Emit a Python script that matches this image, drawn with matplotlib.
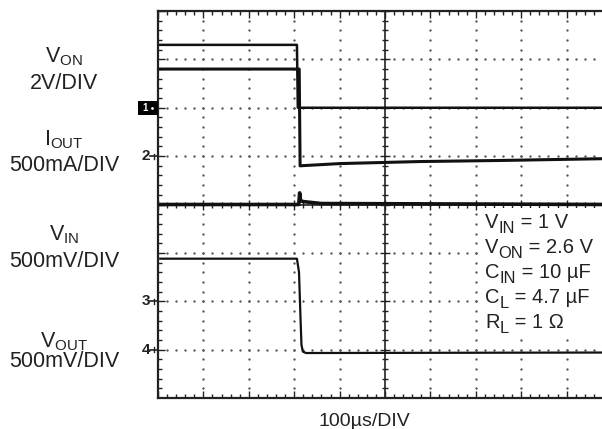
import matplotlib
matplotlib.use("Agg")
import matplotlib.pyplot as plt
from matplotlib.patches import Rectangle
import numpy as np

plt.rcParams["font.family"] = ["Liberation Sans", "DejaVu Sans"]
plt.rcParams["mathtext.fontset"] = "custom"
plt.rcParams["mathtext.rm"] = "Liberation Sans"
plt.rcParams["mathtext.default"] = "regular"

# ---------------------------------------------------------------------------
# Scope channels: reference level (div from screen centre) and units/div
# ---------------------------------------------------------------------------
ch_names = ["V$_{ON}$", "I$_{OUT}$", "V$_{IN}$", "V$_{OUT}$"]
ch_scales = ["2V/DIV", "500mA/DIV", "500mV/DIV", "500mV/DIV"]
ch_pos = [2.0, 1.0, -2.0, -3.0]
ch_per_div = [2.0, 0.5, 0.5, 0.5]

# captured waveforms, time in us
von_t = [5, 306, 308, 1000]
von_v = [2.6, 2.6, 0.0, 0.0]

iout_t = [5, 311, 313, 401, 577, 753, 1000]
iout_a = [0.90, 0.90, -0.10, -0.077, -0.056, -0.045, -0.025]

vin_t = [5, 310, 312, 314, 320, 360, 1000]
vin_v = [1.0, 1.0, 1.12, 1.04, 1.03, 1.01, 1.0]

vout_t = [5, 306, 310.6, 314, 316, 319, 326, 1000]
vout_v = [0.94, 0.94, 0.80, 0.31, 0.05, -0.02, -0.035, -0.03]

# test conditions: symbol, subscript, value
cond_sym = ["V", "V", "C", "C", "R"]
cond_sub = ["IN", "ON", "IN", "L", "L"]
cond_val = [" = 1 V", " = 2.6 V", " = 10 µF", " = 4.7 µF", " = 1 Ω"]

time_label = "100µs/DIV"

W, H = 602, 429
INK = "#222222"


def to_div(vals, ch):
    return [ch_pos[ch] + v / ch_per_div[ch] for v in vals]


fig = plt.figure(figsize=(W / 100, H / 100), dpi=100)
fig.patch.set_facecolor("white")
ax = fig.add_axes([158 / W, 31 / H, 454 / W, 387 / H])
ax.set_xlim(0, 1000)
ax.set_ylim(-4, 4)
ax.set_xticks([])
ax.set_yticks([])
for sp in ax.spines.values():
    sp.set_linewidth(1.6)
    sp.set_color(INK)

# pixel sizes in data units
px_x = 1000 / 454
px_y = 8 / 387

# dotted graticule
minor_x = np.arange(0, 1001, 20)
minor_y = np.round(np.arange(-4, 4.001, 0.2), 3)
for gx in range(100, 1000, 100):
    if gx == 500:
        continue
    ax.plot([gx] * (len(minor_y) - 2), minor_y[1:-1], ls="none", marker="o",
            ms=1.7, mew=0, color="#555555", zorder=2)
for gy in range(-3, 4):
    if gy == 0:
        continue
    ax.plot(minor_x[1:-1], [gy] * (len(minor_x) - 2), ls="none", marker="o",
            ms=1.7, mew=0, color="#555555", zorder=2)

# centre cross with tick marks
ax.axvline(500, color=INK, lw=1.2, zorder=2)
ax.axhline(0, color=INK, lw=1.2, zorder=2)
for x in minor_x:
    h = (5 if x % 100 == 0 else 3) * px_y
    ax.vlines(x, -h, h, color=INK, lw=1.0, zorder=2)
for y in minor_y:
    w = (5 if abs(y - round(y)) < 1e-6 else 3) * px_x
    ax.hlines(y, 500 - w, 500 + w, color=INK, lw=1.0, zorder=2)

# inward ticks on the frame
for x in minor_x:
    h = (7 if x % 100 == 0 else 4) * px_y
    ax.vlines(x, 4 - h, 4, color=INK, lw=1.0, zorder=2)
    ax.vlines(x, -4, -4 + h, color=INK, lw=1.0, zorder=2)
for y in minor_y:
    w = (7 if abs(y - round(y)) < 1e-6 else 4) * px_x
    ax.hlines(y, 0, w, color=INK, lw=1.0, zorder=2)

# blank panel behind the test conditions
ax.add_patch(Rectangle((705, -2.64), 300, 2.56, facecolor="white",
                       edgecolor="none", zorder=3))

# traces
ax.plot(von_t, to_div(von_v, 0), color="#111111", lw=1.8, zorder=4)
ax.plot(iout_t, to_div(iout_a, 1), color="#111111", lw=2.2, zorder=4)
ax.plot(vin_t, to_div(vin_v, 2), color="#111111", lw=2.6, zorder=4)
ax.plot(vout_t, to_div(vout_v, 3), color="#111111", lw=1.6, zorder=4)

# channel reference markers at the left edge
ax.add_patch(Rectangle((-20 * px_x, ch_pos[0] - 7 * px_y), 20 * px_x, 14 * px_y,
                       facecolor="black", edgecolor="none", clip_on=False, zorder=5))
ax.text(-13 * px_x, ch_pos[0], "1", color="white", fontsize=7, fontweight="bold",
        ha="center", va="center", clip_on=False, zorder=6)
ax.plot([-6 * px_x], [ch_pos[0]], marker="o", ms=2, color="white", mew=0,
        clip_on=False, zorder=6)
for n in (1, 2, 3):
    pos = ch_pos[n]
    ax.text(-8 * px_x, pos, str(n + 1), ha="right", va="center", fontsize=11,
            fontweight="bold", color=INK, clip_on=False)
    ax.plot([-8 * px_x, 0], [pos, pos], color=INK, lw=1.2, clip_on=False)
    ax.plot([-4 * px_x, -4 * px_x], [pos - 2.5 * px_y, pos + 2.5 * px_y],
            color=INK, lw=1.0, clip_on=False)

# channel labels on the left
name_base = [62, 145, 240, 347]
scale_base = [89, 171, 267, 367]
for name, scale, yb, ys in zip(ch_names, ch_scales, name_base, scale_base):
    fig.text(64 / W, 1 - yb / H, name, ha="center", va="baseline",
             fontsize=15.5, color=INK)
    fig.text(64 / W, 1 - ys / H, scale, ha="center", va="baseline",
             fontsize=15.5, color=INK)

# test conditions, built piece by piece so the subscripts stay large
fig.canvas.draw()
rend = fig.canvas.get_renderer()
fs_box = 14.5
for i, (sym, sub, val) in enumerate(zip(cond_sym, cond_sub, cond_val)):
    yb = 228 + 25 * i
    t1 = fig.text(485 / W, 1 - yb / H, sym, ha="left", va="baseline",
                  fontsize=fs_box, color=INK)
    x1 = t1.get_window_extent(rend).x1
    t2 = fig.text(x1 / W, 1 - (yb + 5) / H, sub, ha="left", va="baseline",
                  fontsize=fs_box * 0.82, color=INK)
    x2 = t2.get_window_extent(rend).x1
    fig.text(x2 / W, 1 - yb / H, val, ha="left", va="baseline",
             fontsize=fs_box, color=INK)

fig.text(364 / W, 1 - 426 / H, time_label, ha="center", va="baseline",
         fontsize=14, color=INK)

fig.savefig("out.png", dpi=100, facecolor="white")
